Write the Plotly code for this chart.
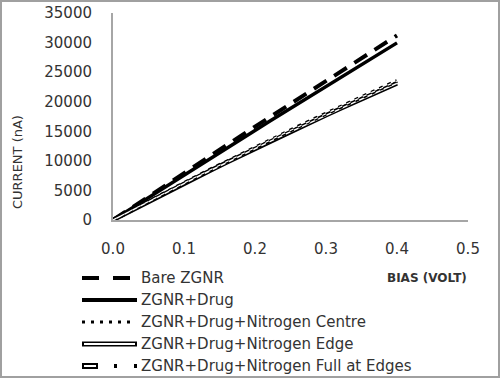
import plotly.graph_objects as go

# ---- data ----
bias = [0.00, 0.02, 0.04, 0.06, 0.08, 0.10, 0.12, 0.14, 0.16, 0.18, 0.20,
        0.22, 0.24, 0.26, 0.28, 0.30, 0.32, 0.34, 0.36, 0.38, 0.40]
bare_zgnr = [0, 1600, 3190, 4780, 6360, 7940, 9520, 11090, 12660, 14230, 15790,
             17350, 18910, 20460, 22010, 23560, 25100, 26640, 28180, 29710, 31200]
zgnr_drug = [0, 1530, 3050, 4570, 6090, 7610, 9120, 10630, 12140, 13640, 15140,
             16640, 18130, 19620, 21100, 22580, 24060, 25530, 27000, 28470, 29950]
n_centre = [0, 1260, 2510, 3750, 4980, 6200, 7410, 8610, 9800, 10980, 12150,
            13310, 14460, 15600, 16730, 17850, 18960, 20060, 21150, 22230, 23300]
n_edge = [0, 1250, 2490, 3720, 4940, 6150, 7350, 8540, 9720, 10890, 12050,
          13200, 14340, 15470, 16590, 17700, 18800, 19890, 20970, 22040, 23100]
n_full = [0, 1270, 2530, 3780, 5020, 6250, 7470, 8680, 9880, 11070, 12250,
          13420, 14580, 15730, 16870, 18000, 19120, 20230, 21330, 22420, 23500]
series_names = ["Bare ZGNR", "ZGNR+Drug", "ZGNR+Drug+Nitrogen Centre",
                "ZGNR+Drug+Nitrogen Edge", "ZGNR+Drug+Nitrogen Full at Edges"]
x_ticks = [0.0, 0.1, 0.2, 0.3, 0.4, 0.5]
y_ticks = [0, 5000, 10000, 15000, 20000, 25000, 30000, 35000]

W, H = 500, 378
ML, MR, MT, MB = 113, 32, 13, 158
PW, PH = W - ML - MR, H - MT - MB


def px(x):
    return (x - ML) / PW


def py(y):
    return (H - MB - y) / PH


FONT = "DejaVu Sans"
TXT = "#333333"
AX = "#a6a6a6"

fig = go.Figure()

fig.add_trace(go.Scatter(x=bias, y=bare_zgnr, mode="lines", name=series_names[0],
                         line=dict(color="black", width=4, dash="15px,9px")))
fig.add_trace(go.Scatter(x=bias, y=zgnr_drug, mode="lines", name=series_names[1],
                         line=dict(color="black", width=3.5)))
fig.add_trace(go.Scatter(x=bias, y=n_centre, mode="lines", name=series_names[2],
                         line=dict(color="black", width=2.5, dash="2px,4px")))
fig.add_trace(go.Scatter(x=bias, y=n_edge, mode="lines", name=series_names[3],
                         line=dict(color="black", width=4.5)))
fig.add_trace(go.Scatter(x=bias, y=n_edge, mode="lines", showlegend=False,
                         line=dict(color="white", width=1.5)))
fig.add_trace(go.Scatter(x=bias, y=n_full, mode="lines", name=series_names[4],
                         line=dict(color="black", width=4, dash="4px,5px")))
fig.add_trace(go.Scatter(x=bias, y=n_full, mode="lines", showlegend=False,
                         line=dict(color="white", width=1.2, dash="4px,5px")))

shapes = []
# outer border
shapes.append(dict(type="rect", xref="paper", yref="paper",
                   x0=px(1), x1=px(W - 1), y0=py(H - 1), y1=py(1),
                   line=dict(color="#a0a0a0", width=2), fillcolor="rgba(0,0,0,0)"))


def seg(x0, x1, y, color="black", width=4, dash="solid"):
    shapes.append(dict(type="line", xref="paper", yref="paper",
                       x0=px(x0), x1=px(x1), y0=py(y), y1=py(y),
                       line=dict(color=color, width=width, dash=dash)))


rows = [278, 300, 322, 344, 366]
# legend symbols
seg(82, 137, rows[0], width=4, dash="17px,14px")
seg(82, 137, rows[1], width=4)
seg(82, 130, rows[2], width=3, dash="3px,6px")
seg(82, 137, rows[3], width=5)
seg(84, 135, rows[3], color="white", width=1.8)
seg(82, 98, rows[4], width=6)
seg(84, 96, rows[4], color="white", width=2)
seg(114, 117, rows[4], width=4)
seg(134, 137, rows[4], width=4)

annotations = []
for name, r in zip(series_names, rows):
    annotations.append(dict(x=px(139), y=py(r), xref="paper", yref="paper",
                            text=name, showarrow=False, xanchor="left",
                            yanchor="middle", font=dict(family=FONT, size=15, color=TXT)))
annotations.append(dict(x=px(427), y=py(278), xref="paper", yref="paper",
                        text="<b>BIAS (VOLT)</b>", showarrow=False, xanchor="center",
                        yanchor="middle", font=dict(family=FONT, size=12, color=TXT)))
annotations.append(dict(x=px(17), y=py(162), xref="paper", yref="paper",
                        text="CURRENT (nA)", showarrow=False, textangle=-90,
                        xanchor="center", yanchor="middle",
                        font=dict(family=FONT, size=13, color=TXT)))

fig.update_layout(
    width=W, height=H,
    margin=dict(l=ML, r=MR, t=MT, b=MB, pad=0, autoexpand=False),
    paper_bgcolor="white", plot_bgcolor="white",
    showlegend=False,
    shapes=shapes, annotations=annotations,
    font=dict(family=FONT, size=15, color=TXT),
)
fig.update_xaxes(range=[0, 0.5], tickvals=x_ticks, tickformat=".1f",
                 showgrid=False, zeroline=False, showline=True, linecolor=AX,
                 linewidth=2, ticks="", ticklabelstandoff=14, automargin=False,
                 tickfont=dict(family=FONT, size=15, color=TXT))
fig.update_yaxes(range=[0, 35000], tickvals=y_ticks, tickformat="d",
                 showgrid=False, zeroline=False, showline=True, linecolor=AX,
                 linewidth=2, ticks="", ticklabelstandoff=16, automargin=False,
                 tickfont=dict(family=FONT, size=15, color=TXT))

fig.write_html("out.html", config={"displayModeBar": False},
               post_script="document.body.style.margin='0';document.body.style.overflow='hidden';")
